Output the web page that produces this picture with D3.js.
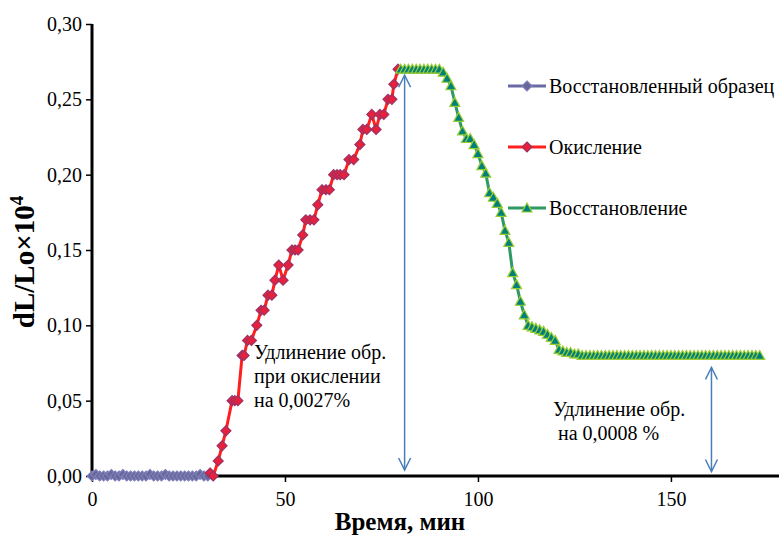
<!DOCTYPE html>
<html lang="ru">
<head>
<meta charset="UTF-8">
<title>dL/Lo</title>
<script src="https://cdn.jsdelivr.net/npm/d3@7/dist/d3.min.js"></script>
<style>
  * { margin: 0; padding: 0; }
  body { background: #fff; width: 779px; height: 535px; overflow: hidden; }
  svg { display: block; }
  svg text { font-family: "Liberation Serif", "DejaVu Serif", serif; }
</style>
</head>
<body>
<svg id="chart" width="779" height="535"></svg>
<script>
// ─── Data ────────────────────────────────────────────────────────────────────

const seriesNames = ['Восстановленный образец', 'Окисление', 'Восстановление'];

const blueTime = [0, 1, 2, 3, 4, 5, 6, 7, 8, 9, 10, 11, 12, 13, 14, 15, 16, 17, 18, 19, 20,
                  21, 22, 23, 24, 25, 26, 27, 28, 29, 30];
const blueVal  = [0, 0.001, 0, 0, 0, 0.001, 0, 0, 0.001, 0, 0, 0, 0, 0, 0, 0.001, 0, 0, 0, 0.001, 0,
                  0, 0, 0, 0, 0, 0, 0, 0.001, 0, 0];

const redTime = [30.6, 31.4, 32.7, 33.7, 34.7, 36.3, 37.0, 37.8, 38.9, 39.4, 40.3, 41.3, 42.7,
                 43.8, 44.6, 45.6, 46.6, 47.4, 48.4, 49.5, 50.8, 51.8, 52.6, 53.4, 54.6, 55.4,
                 56.5, 57.5, 58.5, 59.6, 60.6, 61.5, 62.6, 63.5, 64.3, 65.3, 66.6, 67.8, 69.4,
                 70.2, 71.2, 72.5, 73.6, 74.6, 75.6, 76.7, 77.7, 78.2, 79.3];
const redVal  = [0.002, 0, 0.01, 0.02, 0.03, 0.05, 0.05, 0.05, 0.08, 0.08, 0.09, 0.09, 0.10,
                 0.11, 0.11, 0.12, 0.12, 0.13, 0.14, 0.13, 0.14, 0.15, 0.15, 0.15, 0.16, 0.17,
                 0.17, 0.17, 0.18, 0.19, 0.19, 0.19, 0.20, 0.20, 0.20, 0.20, 0.21, 0.21, 0.22,
                 0.23, 0.23, 0.24, 0.23, 0.24, 0.24, 0.25, 0.25, 0.26, 0.27];

const greenTime = [80, 81, 82, 83, 84, 85, 86, 87, 88, 89, 90, 91, 92, 93, 94, 95, 96, 97, 98, 99,
                   100, 101, 102, 103, 104, 105, 106, 107, 108, 109, 110, 111, 112, 113, 114, 115,
                   116, 117, 118, 119, 120, 121, 122, 123, 124, 125, 126, 127, 128, 129, 130, 131,
                   132, 133, 134, 135, 136, 137, 138, 139, 140, 141, 142, 143, 144, 145, 146, 147,
                   148, 149, 150, 151, 152, 153, 154, 155, 156, 157, 158, 159, 160, 161, 162, 163,
                   164, 165, 166, 167, 168, 169, 170, 171, 172, 173];
const greenVal  = [0.27, 0.27, 0.27, 0.27, 0.27, 0.27, 0.27, 0.27, 0.27, 0.27, 0.27, 0.268, 0.264,
                   0.259, 0.248, 0.238, 0.229, 0.224, 0.224, 0.22, 0.214, 0.206, 0.201, 0.188,
                   0.185, 0.181, 0.175, 0.163, 0.155, 0.135, 0.127, 0.116, 0.107, 0.100, 0.099,
                   0.098, 0.097, 0.096, 0.094, 0.092, 0.090, 0.084, 0.083, 0.082, 0.082, 0.081,
                   0.081, 0.080, 0.080, 0.080, 0.080, 0.080, 0.080, 0.080, 0.080, 0.080, 0.080,
                   0.080, 0.080, 0.080, 0.080, 0.080, 0.080, 0.080, 0.080, 0.080, 0.080, 0.080,
                   0.080, 0.080, 0.080, 0.080, 0.080, 0.080, 0.080, 0.080, 0.080, 0.080, 0.080,
                   0.080, 0.080, 0.080, 0.080, 0.080, 0.080, 0.080, 0.080, 0.080, 0.080, 0.080,
                   0.080, 0.080, 0.080, 0.080];

const xTicks = [0, 50, 100, 150];
const yTicks = [0, 0.05, 0.10, 0.15, 0.20, 0.25, 0.30];

// annotations: arrow x (min), arrow ends (value), text lines
const arrowTime = [81, 160.5];
const arrowTop  = [0.266, 0.072];
const arrowBot  = [0.004, 0.003];
const noteLines = [
  ['Удлинение обр.', 'при окислении', 'на 0,0027%'],
  ['Удлинение обр.', '\u00a0на 0,0008 %']
];

// ─── Scales ──────────────────────────────────────────────────────────────────

const FONT = '"Liberation Serif", "DejaVu Serif", serif';
const svg = d3.select('#chart');
const x = d3.scaleLinear().domain([0, 178]).range([92, 779]);
const y = d3.scaleLinear().domain([0, 0.3]).range([476, 24]);

// Excel-like square diamond
const diamond = {
  draw(ctx, size) {
    const r = Math.sqrt(size) / 2;
    ctx.moveTo(0, -r); ctx.lineTo(r, 0); ctx.lineTo(0, r); ctx.lineTo(-r, 0); ctx.closePath();
  }
};
const triangle = {
  draw(ctx, size) {
    const r = Math.sqrt(size) / 2;
    ctx.moveTo(0, -r); ctx.lineTo(r, r * 0.8); ctx.lineTo(-r, r * 0.8); ctx.closePath();
  }
};

const styles = [
  { line: '#6a6aa6', fill: '#666699', stroke: '#8080bb', shape: diamond,  size: 100 },
  { line: '#ff1f1f', fill: '#e8203c', stroke: '#993366', shape: diamond,  size: 100 },
  { line: '#2e9960', fill: '#00807a', stroke: '#9acd32', shape: triangle, size: 100 }
];

const series = [
  blueTime.map((t, i) => [t, blueVal[i]]),
  redTime.map((t, i) => [t, redVal[i]]),
  greenTime.map((t, i) => [t, greenVal[i]])
];

// ─── Axes ────────────────────────────────────────────────────────────────────

const fmt = v => d3.format('.2f')(v).replace('.', ',');

const yAxis = svg.append('g')
  .attr('transform', `translate(${x(0)},0)`)
  .call(d3.axisLeft(y).tickValues(yTicks).tickFormat(fmt).tickSize(6).tickPadding(4));
yAxis.attr('font-family', FONT);
yAxis.select('.domain').attr('stroke', '#000').attr('stroke-width', 3)
  .attr('d', `M0,${y(0.3)}V${y(0)}`);
yAxis.selectAll('.tick line').attr('stroke', '#000').attr('stroke-width', 1.5);
yAxis.selectAll('.tick text').attr('font-size', 20).attr('fill', '#000');

const xAxis = svg.append('g')
  .attr('transform', `translate(0,${y(0)})`)
  .call(d3.axisBottom(x).tickValues(xTicks).tickFormat(d3.format('d')).tickSize(6).tickPadding(10));
xAxis.attr('font-family', FONT);
xAxis.select('.domain').attr('stroke', '#000').attr('stroke-width', 3)
  .attr('d', `M${x(0)},0H779`);
xAxis.selectAll('.tick line').attr('stroke', '#000').attr('stroke-width', 1.5);
xAxis.selectAll('.tick text').attr('font-size', 20).attr('fill', '#000');

// axis titles
svg.append('text')
  .attr('x', 400).attr('y', 530)
  .attr('text-anchor', 'middle')
  .attr('font-size', 25).attr('font-weight', 'bold')
  .text('Время, мин');

const yt = svg.append('text')
  .attr('transform', 'translate(34,262) rotate(-90)')
  .attr('text-anchor', 'middle')
  .attr('font-size', 29).attr('font-weight', 'bold');
yt.append('tspan').text('dL/Lo×10');
yt.append('tspan').attr('dy', -11).attr('font-size', 19).text('4');

// ─── Series ──────────────────────────────────────────────────────────────────

const line = d3.line().x(d => x(d[0])).y(d => y(d[1]));

series.forEach((pts, i) => {
  const st = styles[i];
  svg.append('path')
    .datum(pts)
    .attr('fill', 'none')
    .attr('stroke', st.line)
    .attr('stroke-width', 3)
    .attr('stroke-linejoin', 'round')
    .attr('d', line);

  const sym = d3.symbol().type(st.shape).size(st.size);
  svg.append('g').selectAll('path')
    .data(pts)
    .enter().append('path')
    .attr('transform', d => `translate(${x(d[0])},${y(d[1])})`)
    .attr('d', sym)
    .attr('fill', st.fill)
    .attr('stroke', st.stroke)
    .attr('stroke-width', 1.2);
});

// ─── Legend ──────────────────────────────────────────────────────────────────

const legendY = [86, 147, 208];
seriesNames.forEach((name, i) => {
  const st = styles[i];
  const g = svg.append('g').attr('transform', `translate(508,${legendY[i]})`);
  g.append('line').attr('x1', 0).attr('x2', 38).attr('y1', 0).attr('y2', 0)
    .attr('stroke', st.line).attr('stroke-width', 3);
  g.append('path')
    .attr('transform', 'translate(19,0)')
    .attr('d', d3.symbol().type(st.shape).size(st.size))
    .attr('fill', st.fill).attr('stroke', st.stroke).attr('stroke-width', 1.2);
  g.append('text')
    .attr('x', 41).attr('y', 7)
    .attr('font-size', 20)
    .text(name);
});

// ─── Annotations ─────────────────────────────────────────────────────────────

const arrowColor = '#4a7ebb';
arrowTime.forEach((t, i) => {
  const ax = x(t), y1 = y(arrowTop[i]), y2 = y(arrowBot[i]);
  const g = svg.append('g').attr('stroke', arrowColor).attr('stroke-width', 1.5).attr('fill', 'none');
  g.append('line').attr('x1', ax).attr('x2', ax).attr('y1', y1).attr('y2', y2);
  g.append('path').attr('d', `M${ax - 6},${y1 + 12}L${ax},${y1}L${ax + 6},${y1 + 12}`);
  g.append('path').attr('d', `M${ax - 6},${y2 - 12}L${ax},${y2}L${ax + 6},${y2 - 12}`);
});

const notePos = [[254, 359], [553, 416]];
noteLines.forEach((lines, i) => {
  const t = svg.append('text')
    .attr('x', notePos[i][0]).attr('y', notePos[i][1])
    .attr('font-size', 20);
  lines.forEach((s, j) => {
    t.append('tspan').attr('x', notePos[i][0]).attr('dy', j === 0 ? 0 : 24).text(s);
  });
});
</script>
</body>
</html>
